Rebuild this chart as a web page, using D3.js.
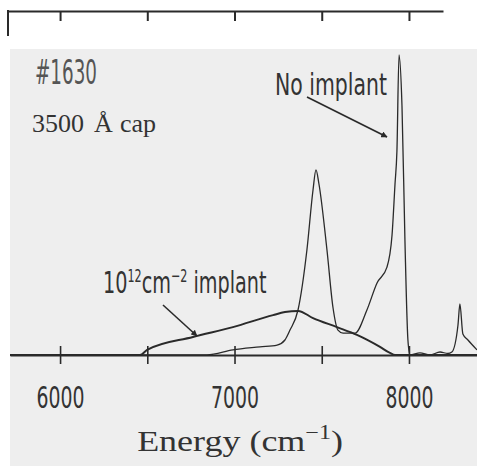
<!DOCTYPE html>
<html><head><meta charset="utf-8">
<script src="https://cdn.jsdelivr.net/npm/d3@7"></script>
<style>html,body{margin:0;padding:0;background:#fff;}svg{display:block;}</style>
</head><body>
<script>
// Data (energy in cm^-1, intensity in arbitrary units, peak = 100)
const energyNoImplant = [5713, 6842, 6991, 7146, 7244, 7289, 7318, 7364, 7415, 7450, 7467, 7484, 7530, 7564, 7593, 7622, 7691, 7759, 7817, 7874, 7903, 7920, 7931, 7943, 7960, 7977, 7994, 8006, 8063, 8120, 8178, 8223, 8246, 8281, 8292, 8309, 8338, 8390];
const intensityNoImplant = [0, 0, 1.7, 2.7, 3.3, 5, 8.3, 15, 35, 55, 61.7, 57, 35, 16, 8.3, 7.3, 7.3, 15, 24, 29.3, 40, 57, 68, 100, 83, 38, 5, 0, 0.7, 0, 1, 0.5, 1, 10, 17, 7, 5, 1.7];
const energyImplant = [5713, 6458, 6499, 6762, 6991, 7221, 7289, 7364, 7450, 7587, 7702, 7834, 7891, 7920, 8390];
const intensityImplant = [0, 0, 1.7, 6, 9.3, 13.3, 14.3, 14.7, 12.3, 9.3, 6.7, 2.7, 0.7, 0, 0];
const tickValues = [6000, 6500, 7000, 7500, 8000];
const tickLabels = ["6000", "", "7000", "", "8000"];

(function () {
const W = 477, H = 466;
const svg = d3.select("body").append("svg").attr("width", W).attr("height", H);

// scanned page background
svg.append("rect").attr("x", 10).attr("y", 49).attr("width", W - 10).attr("height", H - 49).attr("fill", "#eeeeee");

const x = d3.scaleLinear().domain([5713, 8390]).range([10, 477]);
const y = d3.scaleLinear().domain([0, 100]).range([355, 55]);
const ink = "#2a2a2a";

// top axis (frame)
const xTop = x.copy().domain([x.invert(8), x.invert(443)]).range([8, 443]);
const topAxis = svg.append("g").attr("transform", "translate(0,11)")
  .call(d3.axisBottom(xTop).tickValues(tickValues).tickSize(10).tickSizeOuter(0).tickFormat(""));
topAxis.select(".domain").attr("stroke", ink).attr("stroke-width", 2.2);
topAxis.selectAll(".tick line").attr("stroke", ink).attr("stroke-width", 2);
svg.append("line").attr("x1", 8).attr("x2", 8).attr("y1", 10).attr("y2", 36).attr("stroke", ink).attr("stroke-width", 2);

// curves
const lineGen = (ex, iy) => d3.line().x((d, i) => x(ex[i])).y(d => y(d)).curve(d3.curveMonotoneX)(iy);
svg.append("path").attr("d", lineGen(energyImplant, intensityImplant))
  .attr("fill", "none").attr("stroke", ink).attr("stroke-width", 2);
svg.append("path").attr("d", lineGen(energyNoImplant, intensityNoImplant))
  .attr("fill", "none").attr("stroke", ink).attr("stroke-width", 1.3);

// bottom axis
const bottomAxis = svg.append("g").attr("transform", "translate(0,355)")
  .call(d3.axisBottom(x).tickValues(tickValues).tickSize(9).tickSizeOuter(0)
    .tickFormat((d, i) => tickLabels[i]));
bottomAxis.select(".domain").attr("stroke", ink).attr("stroke-width", 2.2);
bottomAxis.selectAll(".tick line").attr("stroke", ink).attr("stroke-width", 1.6).attr("y1", -9);
bottomAxis.selectAll(".tick text").attr("fill", "#333").attr("font-family", "DejaVu Sans")
  .attr("font-size", 30).attr("y", 53).attr("dy", 0)
  .attr("textLength", d => (d % 1000 === 0 ? 48 : null)).attr("lengthAdjust", "spacingAndGlyphs");

// axis title
svg.append("g").attr("transform", "translate(240,451) scale(1.2,1)")
  .append("text").attr("x", 0).attr("y", 0).attr("text-anchor", "middle")
  .attr("font-family", "Liberation Serif").attr("font-size", 30).attr("fill", "#333")
  .html('Energy (cm<tspan dy="-12" font-size="20">−1</tspan><tspan dy="12">)</tspan>');

// annotations
svg.append("text").attr("x", 35).attr("y", 84).attr("font-family", "DejaVu Sans")
  .attr("font-size", 34).attr("fill", "#555").attr("textLength", 62).attr("lengthAdjust", "spacingAndGlyphs").text("#1630");
const cap = svg.append("text").attr("y", 132).attr("font-family", "Liberation Serif")
  .attr("font-size", 26).attr("fill", "#333");
cap.append("tspan").attr("x", 32).text("3500");
cap.append("tspan").attr("x", 94).text("Å");
cap.append("tspan").attr("x", 120).text("cap");

svg.append("text").attr("x", 275).attr("y", 95).attr("font-family", "DejaVu Sans")
  .attr("font-size", 30).attr("fill", "#333").attr("textLength", 112).attr("lengthAdjust", "spacingAndGlyphs").text("No implant");

svg.append("g").attr("transform", "translate(103,293) scale(0.62,1)")
  .append("text").attr("x", 0).attr("y", 0).attr("font-family", "DejaVu Sans")
  .attr("font-size", 31).attr("fill", "#333")
  .html('10<tspan dy="-11" font-size="18">12</tspan><tspan dy="11">cm</tspan><tspan dy="-11" font-size="18">−2</tspan><tspan dy="11"> implant</tspan>');

// arrows
const defs = svg.append("defs");
defs.append("marker").attr("id", "ah").attr("viewBox", "0 0 10 10").attr("refX", 9).attr("refY", 5)
  .attr("markerWidth", 4).attr("markerHeight", 4).attr("orient", "auto")
  .append("path").attr("d", "M0,0 L10,5 L0,10 z").attr("fill", ink);
svg.append("line").attr("x1", 307).attr("y1", 97).attr("x2", 387).attr("y2", 137)
  .attr("stroke", ink).attr("stroke-width", 1.6).attr("marker-end", "url(#ah)");
svg.append("line").attr("x1", 163).attr("y1", 305).attr("x2", 197).attr("y2", 336)
  .attr("stroke", ink).attr("stroke-width", 1.6).attr("marker-end", "url(#ah)");
})();
</script>
</body></html>
